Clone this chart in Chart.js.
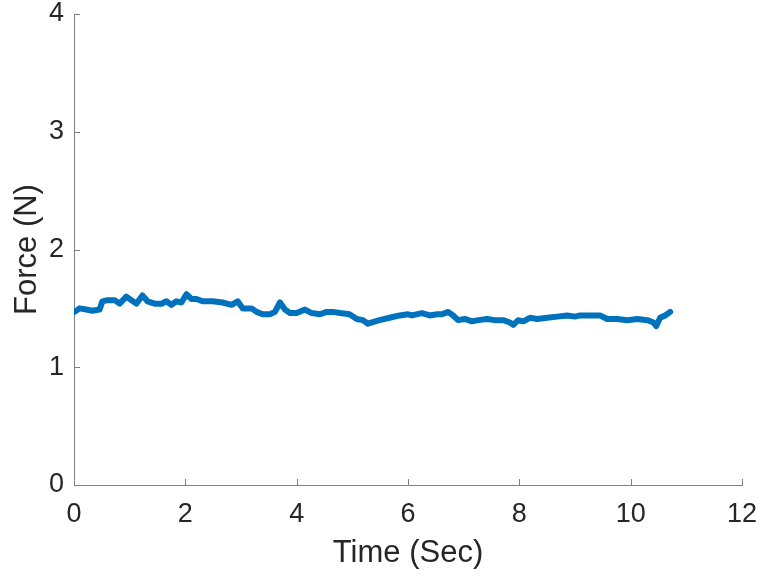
<!DOCTYPE html>
<html>
<head>
<meta charset="utf-8">
<script src="https://cdn.jsdelivr.net/npm/chart.js@4/dist/chart.umd.min.js"></script>
<style>
  html, body { margin: 0; padding: 0; background: #ffffff; }
  canvas { display: block; }
</style>
</head>
<body>
<canvas id="forceChart" width="761" height="579"></canvas>
<script>
// Force trace over time
const timeSec = [
  0.01, 0.10, 0.22, 0.33, 0.46, 0.51, 0.60, 0.73, 0.82, 0.94,
  1.03, 1.12, 1.23, 1.32, 1.45, 1.57, 1.66, 1.75, 1.84, 1.93,
  2.02, 2.11, 2.20, 2.31, 2.49, 2.67, 2.83, 2.94, 3.03, 3.19,
  3.28, 3.39, 3.52, 3.61, 3.70, 3.79, 3.88, 4.00, 4.15, 4.27,
  4.42, 4.54, 4.65, 4.78, 4.95, 5.08, 5.19, 5.28, 5.41, 5.49,
  5.67, 5.85, 6.00, 6.07, 6.25, 6.39, 6.52, 6.61, 6.72, 6.81,
  6.90, 7.02, 7.15, 7.26, 7.42, 7.56, 7.71, 7.83, 7.89, 7.98,
  8.07, 8.19, 8.32, 8.50, 8.68, 8.86, 9.00, 9.09, 9.27, 9.45,
  9.58, 9.76, 9.94, 10.12, 10.30, 10.41, 10.46, 10.53, 10.62, 10.71
];
const forceN = [
  1.47, 1.50, 1.49, 1.48, 1.49, 1.56, 1.57, 1.57, 1.54, 1.60,
  1.57, 1.54, 1.61, 1.56, 1.54, 1.54, 1.56, 1.53, 1.56, 1.55,
  1.62, 1.58, 1.58, 1.56, 1.56, 1.55, 1.53, 1.56, 1.50, 1.50,
  1.47, 1.45, 1.45, 1.47, 1.55, 1.49, 1.46, 1.46, 1.49, 1.46,
  1.45, 1.47, 1.47, 1.46, 1.45, 1.41, 1.40, 1.37, 1.39, 1.40,
  1.42, 1.44, 1.45, 1.44, 1.46, 1.44, 1.45, 1.45, 1.47, 1.44,
  1.40, 1.41, 1.39, 1.40, 1.41, 1.40, 1.40, 1.38, 1.36, 1.40,
  1.39, 1.42, 1.41, 1.42, 1.43, 1.44, 1.43, 1.44, 1.44, 1.44,
  1.41, 1.41, 1.40, 1.41, 1.40, 1.38, 1.35, 1.42, 1.44, 1.47
];
const xTickValues = [0, 2, 4, 6, 8, 10, 12];
const yTickValues = [0, 1, 2, 3, 4];
const xTitle = 'Time (Sec)';
const yTitle = 'Force (N)';

const axisColor = '#808080';
const textColor = '#262626';
const lineColor = '#0072BD';
const fontFamily = '"Liberation Sans", Arial, Helvetica, sans-serif';

const points = timeSec.map((t, i) => ({ x: t, y: forceN[i] }));

// Short tick marks pointing into the plot area
const inwardTicks = {
  id: 'inwardTicks',
  afterDraw(chart) {
    const { ctx, chartArea, scales } = chart;
    const len = 6;
    ctx.save();
    ctx.strokeStyle = axisColor;
    ctx.lineWidth = 1;
    ctx.beginPath();
    xTickValues.forEach(v => {
      const px = Math.round(scales.x.getPixelForValue(v)) + 0.5;
      ctx.moveTo(px, chartArea.bottom);
      ctx.lineTo(px, chartArea.bottom - len);
    });
    yTickValues.forEach(v => {
      const py = Math.round(scales.y.getPixelForValue(v)) + 0.5;
      ctx.moveTo(chartArea.left, py);
      ctx.lineTo(chartArea.left + len, py);
    });
    ctx.stroke();
    ctx.restore();
  }
};

// Fixed axis box sizes; tick-label overhang does not push the plot area
function fixBox(scale, size) {
  if (scale.isHorizontal()) scale.height = size; else scale.width = size;
  scale.paddingTop = 0;
  scale.paddingBottom = 0;
  scale.paddingLeft = 0;
  scale.paddingRight = 0;
}

new Chart(document.getElementById('forceChart'), {
  type: 'scatter',
  data: {
    datasets: [{
      data: points,
      showLine: true,
      borderColor: lineColor,
      borderWidth: 6,
      borderJoinStyle: 'round',
      borderCapStyle: 'round',
      pointRadius: 0,
      tension: 0,
      fill: false
    }]
  },
  options: {
    responsive: false,
    animation: false,
    devicePixelRatio: 1,
    layout: { padding: { top: 14, right: 19, left: 0, bottom: 0 } },
    plugins: { legend: { display: false }, tooltip: { enabled: false } },
    scales: {
      x: {
        type: 'linear',
        min: 0, max: 12,
        afterBuildTicks(scale) { scale.ticks = xTickValues.map(v => ({ value: v })); },
        afterFit(scale) { fixBox(scale, 94); },
        grid: { display: true, drawOnChartArea: false, drawTicks: false, color: 'rgba(0,0,0,0)' },
        border: { display: true, color: axisColor, width: 1 },
        ticks: { color: textColor, font: { family: fontFamily, size: 27 }, padding: 13, maxRotation: 0 },
        title: { display: true, text: xTitle, color: textColor, font: { family: fontFamily, size: 31 }, padding: { top: 0, bottom: 7 } }
      },
      y: {
        type: 'linear',
        min: 0, max: 4,
        afterBuildTicks(scale) { scale.ticks = yTickValues.map(v => ({ value: v })); },
        afterFit(scale) { fixBox(scale, 74); },
        grid: { display: true, drawOnChartArea: false, drawTicks: false, color: 'rgba(0,0,0,0)' },
        border: { display: true, color: axisColor, width: 1 },
        ticks: { color: textColor, font: { family: fontFamily, size: 27 }, padding: 10 },
        title: { display: true, text: yTitle, color: textColor, font: { family: fontFamily, size: 31 }, padding: { top: 9, bottom: 0 } }
      }
    }
  },
  plugins: [inwardTicks]
});
</script>
</body>
</html>
